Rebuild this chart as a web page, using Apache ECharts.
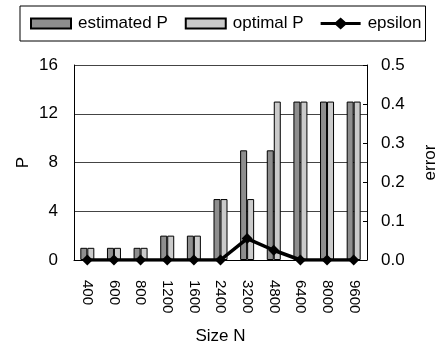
<!DOCTYPE html>
<html>
<head>
<meta charset="utf-8">
<script src="https://cdn.jsdelivr.net/npm/echarts@6/dist/echarts.min.js"></script>
<style>
  html, body { margin: 0; padding: 0; background: #fff; }
  #main { width: 439px; height: 347px; }
</style>
</head>
<body>
<div id="main"></div>
<script>
// 数据
var sizes = ['400', '600', '800', '1200', '1600', '2400', '3200', '4800', '6400', '8000', '9600'];
var estimatedP = [1, 1, 1, 2, 2, 5, 9, 9, 13, 13, 13];
var optimalP = [1, 1, 1, 2, 2, 5, 5, 13, 13, 13, 13];
var epsilon = [0, 0, 0, 0, 0, 0, 0.055, 0.025, 0, 0, 0];

var font = 'Liberation Sans, Arial, sans-serif';
// 图例图标（带上下空白，使矩形比菱形矮）
var rectIcon = 'path://M0,0M40,12M0,1H40V11H0Z';
var lineIcon = 'path://M0,4.5H15L20,0L25,4.5H40V7.5H25L20,12L15,7.5H0Z';

var myChart = echarts.init(document.getElementById('main'));

var option = {
    animation: false,
    textStyle: { fontFamily: font, color: '#000' },
    legend: {
        left: 20,
        top: 6,
        padding: [9, 4, 9, 10],
        borderColor: '#000',
        borderWidth: 1,
        itemWidth: 40,
        itemHeight: 12,
        itemGap: 17,
        symbolKeepAspect: false,
        textStyle: { fontFamily: font, fontSize: 17, color: '#000', padding: [0, 0, 0, 2] },
        data: [
            { name: 'estimated P', icon: rectIcon },
            { name: 'optimal P', icon: rectIcon },
            { name: 'epsilon', icon: lineIcon }
        ]
    },
    grid: { left: 74, right: 72, top: 65, bottom: 87, outerBoundsMode: 'none' },
    xAxis: {
        type: 'category',
        data: sizes,
        name: 'Size N',
        nameLocation: 'middle',
        nameGap: 68,
        nameTextStyle: { fontSize: 17, color: '#000' },
        axisLine: { lineStyle: { color: '#000', width: 1 } },
        axisTick: { inside: true, length: 4, lineStyle: { color: '#000' } },
        axisLabel: { rotate: -90, fontSize: 15, color: '#000', margin: 20 }
    },
    yAxis: [
        {
            type: 'value',
            min: 0, max: 16, interval: 4,
            name: 'P',
            nameLocation: 'middle',
            nameGap: 42,
            nameMoveOverlap: false,
            nameTextStyle: { fontSize: 17, color: '#000' },
            axisLine: { show: true, lineStyle: { color: '#000' } },
            axisTick: { show: false },
            axisLabel: { fontSize: 17, color: '#000', margin: 16 },
            splitLine: { lineStyle: { color: '#444', width: 1 } }
        },
        {
            type: 'value',
            min: 0, max: 0.5, interval: 0.1,
            name: 'error',
            nameLocation: 'middle',
            nameGap: 55,
            nameTextStyle: { fontSize: 17, color: '#000' },
            axisLine: { show: true, lineStyle: { color: '#000' } },
            axisTick: { show: true, inside: true, length: 4, lineStyle: { color: '#000' } },
            axisLabel: {
                fontSize: 17, color: '#000', margin: 14,
                formatter: function (v) { return v.toFixed(1); }
            },
            splitLine: { show: false }
        }
    ],
    series: [
        {
            name: 'estimated P',
            type: 'bar',
            data: estimatedP,
            barWidth: 7,
            barGap: '0%',
            itemStyle: { color: '#8e8e8e', borderColor: '#000', borderWidth: 1 }
        },
        {
            name: 'optimal P',
            type: 'bar',
            data: optimalP,
            barWidth: 7,
            itemStyle: { color: '#cacaca', borderColor: '#000', borderWidth: 1 }
        },
        {
            name: 'epsilon',
            type: 'line',
            yAxisIndex: 1,
            data: epsilon,
            symbol: 'diamond',
            symbolSize: 11,
            lineStyle: { color: '#000', width: 3.5 },
            itemStyle: { color: '#000' }
        }
    ]
};

myChart.setOption(option);
</script>
</body>
</html>
